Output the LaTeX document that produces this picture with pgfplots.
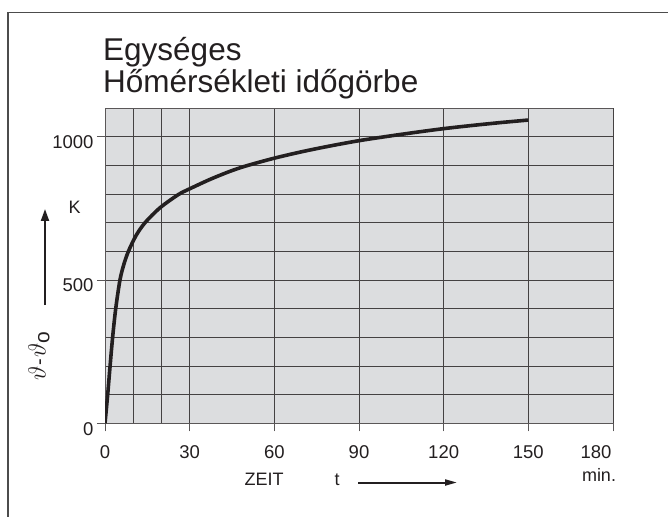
\documentclass[border=0pt]{standalone}
\usepackage{pgfplots}
\pgfplotsset{compat=1.18}
\usepackage{fontspec}
\setmainfont{Liberation Sans}
\usetikzlibrary{arrows.meta}
\definecolor{plotbg}{RGB}{220,221,223}
\definecolor{ink}{RGB}{35,31,32}
\begin{document}
\begin{tikzpicture}[x=1pt,y=1pt]
\path[use as bounding box] (0,0) rectangle (668,517);
\draw[line width=1.1pt, black!70] (668,504.3) -- (8,504.3) -- (8,0);
\begin{axis}[
  at={(105pt,93.7pt)}, anchor=south west,
  scale only axis, width=508pt, height=315.3pt,
  xmin=0, xmax=180, ymin=0, ymax=1100,
  xtick={0,30,...,150}, minor xtick={10,20},
  extra x ticks={180},
  extra x tick style={xticklabel style={anchor=base east, xshift=2pt}},
  ytick={0,500,1000}, minor ytick={100,200,...,1000},
  grid=both,
  major grid style={line width=0.9pt, ink!85},
  minor grid style={line width=0.9pt, ink!85},
  axis line style={line width=0.9pt, ink!75},
  tick style={line width=0.9pt, ink!75},
  tick align=outside, major tick length=8pt, minor tick length=0pt,
  tick pos=left,
  axis background/.style={fill=plotbg},
  tick label style={font=\fontsize{18.5}{18.5}\selectfont, text=ink},
  /pgf/number format/assume math mode=true,
  /pgf/number format/1000 sep={},
  yticklabel style={yshift=-5.5pt},
  xticklabel style={anchor=base, yshift=-27pt},
]
\addplot[smooth, line width=3.6pt, ink] coordinates {
(0,0) (0.95,100) (1.8,200) (2.7,300) (3.8,400) (5.3,500) (6.7,555) (8.3,600)
(11,655) (14.2,700) (19.5,752) (26,798) (30,818)
(37,850) (44,878) (50,898) (60,925) (70,948) (80,968) (90,986)
(100,1001) (110,1015) (120,1028) (130,1039) (140,1049) (150,1058)
};
\end{axis}
\node[anchor=base west, inner sep=0, text=ink, font=\fontsize{31.5}{31.5}\selectfont] at (103,456) {Egységes};
\node[anchor=base west, inner sep=0, text=ink, font=\fontsize{31.5}{31.5}\selectfont] at (103,424.5) {Hőmérsékleti időgörbe};
\node[anchor=base west, inner sep=0, text=ink, font=\fontsize{18}{18}\selectfont] at (68.3,303.7) {K};
\draw[line width=2pt, ink, -{Triangle[length=12pt,width=8pt]}] (45,212) -- (45,308);
\node[rotate=90, inner sep=0, text=ink, font=\fontsize{30}{30}\selectfont] at (39,161) {$\vartheta$\hspace{1pt}{\fontsize{20}{20}\selectfont -}\hspace{1pt}$\vartheta_{\mathrm{o}}$};
\node[anchor=base, inner sep=0, text=ink, font=\fontsize{18}{18}\selectfont] at (264,32) {ZEIT};
\node[anchor=base, inner sep=0, text=ink, font=\fontsize{18}{18}\selectfont] at (337,32) {t};
\draw[line width=2pt, ink, -{Triangle[length=12pt,width=6pt]}] (358,34.5) -- (457,34.5);
\node[anchor=base, inner sep=0, text=ink, font=\fontsize{18}{18}\selectfont] at (599,35.3) {min.};
\end{tikzpicture}
\end{document}
